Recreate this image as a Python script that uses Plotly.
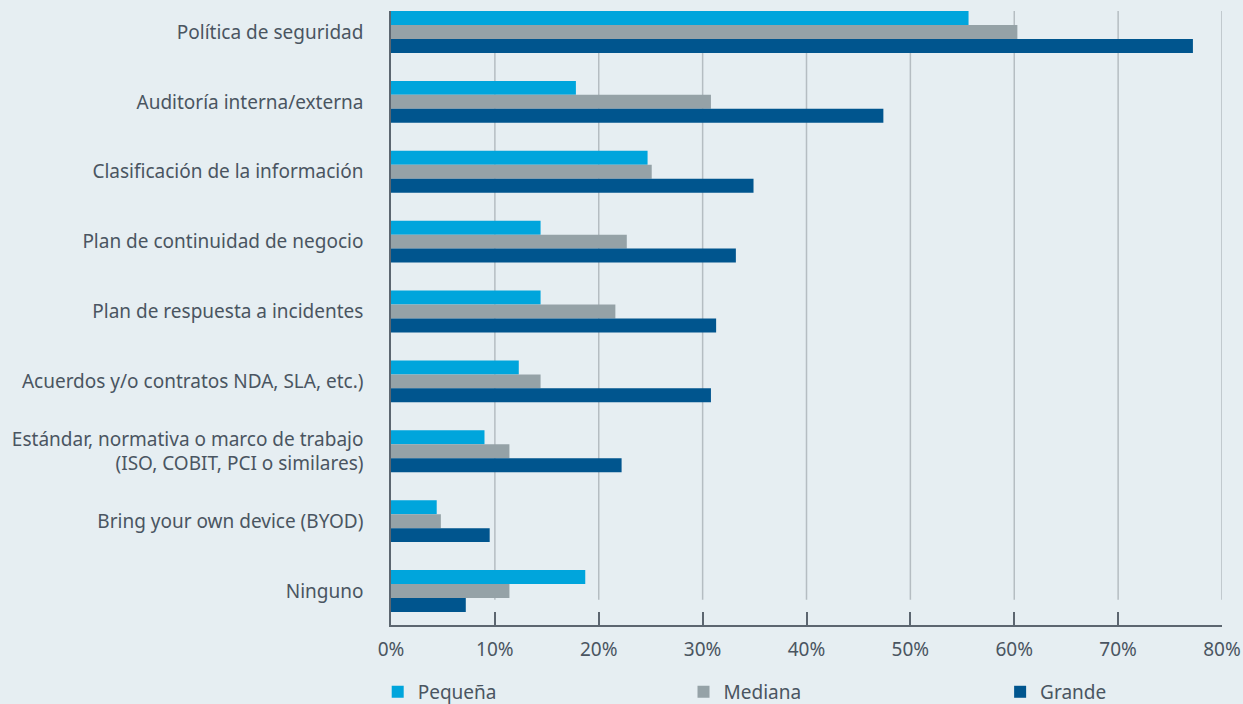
import plotly.graph_objects as go

categorias = [
    "Política de seguridad",
    "Auditoría interna/externa",
    "Clasificación de la información",
    "Plan de continuidad de negocio",
    "Plan de respuesta a incidentes",
    "Acuerdos y/o contratos NDA, SLA, etc.)",
    "Estándar, normativa o marco de trabajo<br>(ISO, COBIT, PCI o similares)",
    "Bring your own device (BYOD)",
    "Ninguno",
]

pequena = [0.556, 0.178, 0.247, 0.144, 0.144, 0.123, 0.090, 0.044, 0.187]
mediana = [0.603, 0.308, 0.251, 0.227, 0.216, 0.144, 0.114, 0.048, 0.114]
grande = [0.772, 0.474, 0.349, 0.332, 0.313, 0.308, 0.222, 0.095, 0.072]

ticks_x = [0, 0.1, 0.2, 0.3, 0.4, 0.5, 0.6, 0.7, 0.8]
ticks_txt = ["0%", "10%", "20%", "30%", "40%", "50%", "60%", "70%", "80%"]

series = [
    ("Pequeña", pequena, "#00a5dc", "legend", -0.016),
    ("Mediana", mediana, "#95a2a7", "legend2", 0.352),
    ("Grande", grande, "#00558e", "legend3", 0.733),
]

FUENTE = "Noto Sans"
TEXTO = "#4a5561"
FONDO = "#e6eef2"
EJE = "#5c6670"

fig = go.Figure()
for nombre, valores, color, leyenda, _ in series:
    fig.add_trace(go.Bar(
        y=categorias, x=valores, name=nombre, orientation="h",
        marker=dict(color=color, line=dict(width=0)),
        legend=leyenda,
    ))

# líneas de cuadrícula (se cortan antes del eje inferior, como en el original)
for v in ticks_x[1:]:
    fig.add_vline(x=v, y0=0.041, y1=1, layer="below",
                  line=dict(color="#b5bdc2", width=1.5))

ley = {}
for nombre, _, _, leyenda, xpos in series:
    ley[leyenda] = dict(
        x=xpos, y=-0.109, xanchor="left", yanchor="middle",
        orientation="h", bgcolor="rgba(0,0,0,0)",
        font=dict(family=FUENTE, size=19, color=TEXTO),
        itemwidth=30,
    )

fig.update_layout(
    barmode="group", bargap=0.4, bargroupgap=0,
    width=1243, height=704,
    margin=dict(l=391, r=21, t=11, b=79, autoexpand=False),
    paper_bgcolor=FONDO, plot_bgcolor=FONDO,
    font=dict(family=FUENTE, size=19, color=TEXTO),
    showlegend=True,
    **ley,
)

fig.update_xaxes(
    range=[0, 0.8], tickvals=ticks_x, ticktext=ticks_txt,
    showgrid=False, zeroline=False,
    showline=True, linecolor=EJE, linewidth=1.5,
    ticks="inside", ticklen=13, tickcolor=EJE, tickwidth=1.5,
    ticklabelstandoff=6, automargin=False,
    tickfont=dict(family=FUENTE, size=19, color=TEXTO),
)
fig.update_yaxes(
    range=[8.486, -0.30],
    showgrid=False, zeroline=False,
    showline=True, linecolor=EJE, linewidth=1.5,
    ticks="", ticklabelstandoff=22, automargin=False,
    tickfont=dict(family=FUENTE, size=19, color=TEXTO),
)

# quitar el margen por defecto de la página
fig.write_html("out.html", config={"displayModeBar": False},
               post_script="document.body.style.margin='0';")
